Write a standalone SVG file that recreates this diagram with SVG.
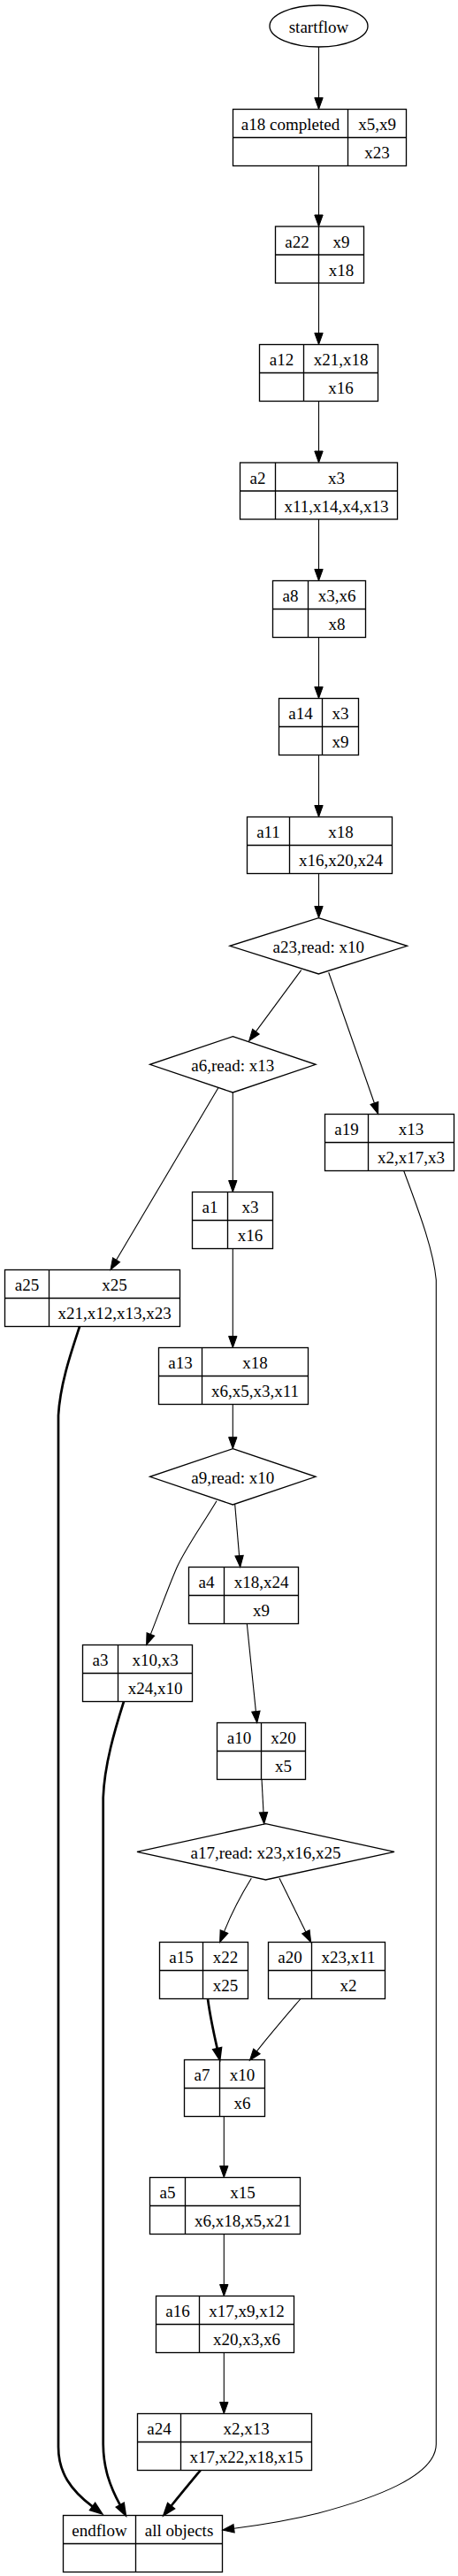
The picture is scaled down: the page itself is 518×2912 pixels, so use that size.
<svg xmlns="http://www.w3.org/2000/svg" width="518" height="2912" viewBox="0 0 518 2912">
<style>
.n{fill:none;stroke:#000;stroke-width:1.33}
.t{font-family:"Liberation Serif","Times New Roman",serif;font-size:19px;fill:#000;text-anchor:middle}
.e{fill:none;stroke:#000;stroke-width:1.1}
.e.thin{marker-end:url(#ah)}
.e.thick{stroke-width:2.7;marker-end:url(#ahk)}
</style>
<defs>
<marker id="ah" markerUnits="userSpaceOnUse" markerWidth="16" markerHeight="12" refX="0" refY="4.7" orient="auto" overflow="visible">
<path d="M0,0 L13,4.7 L0,9.4 z" fill="#000" stroke="#000" stroke-width="1"/>
</marker>
<marker id="ahk" markerUnits="userSpaceOnUse" markerWidth="16" markerHeight="12" refX="0" refY="4.7" orient="auto" overflow="visible">
<path d="M0,0 L13,4.7 L0,9.4 z" fill="#000" stroke="#000" stroke-width="2"/>
</marker>
</defs>
<rect width="518" height="2912" fill="#fff"/>
<g id="connectors">
<path class="e thin" d="M360.5,53 L360.5,110.5"/>
<path class="e thin" d="M360.5,187.5 L360.5,243"/>
<path class="e thin" d="M360.5,320 L360.5,376.5"/>
<path class="e thin" d="M360.5,453.5 L360.5,510"/>
<path class="e thin" d="M360.5,587 L360.5,643.5"/>
<path class="e thin" d="M360.5,720.5 L360.5,776.5"/>
<path class="e thin" d="M360.5,853.5 L360.5,910.5"/>
<path class="e thin" d="M360.5,987.5 L360.5,1024.5"/>
<path class="e thin" d="M340.7,1096.7 L289.4,1166.2"/>
<path class="e thin" d="M371.7,1099.3 L423.4,1247"/>
<path class="e thin" d="M263.3,1235 L263.3,1334.5"/>
<path class="e thin" d="M246.7,1230 L131.6,1424.3"/>
<path class="e thin" d="M263.3,1411 L263.3,1510.5"/>
<path class="e thin" d="M263.3,1587.5 L263.3,1624.7"/>
<path class="e thin" d="M265.7,1700.7 L270.6,1758.6"/>
<path class="e thin" d="M245,1696.7 C228,1725 210,1750 200,1772 C190,1795 182,1818 170.4,1847.4"/>
<path class="e thin" d="M279.3,1835.5 L289.4,1934.6"/>
<path class="e thin" d="M296,2011 L298,2048.7"/>
<path class="e thin" d="M284.3,2123.3 C274,2140 261,2165 253.5,2183.6"/>
<path class="e thin" d="M316,2123.3 L345.9,2183.9"/>
<path class="e thick" d="M235,2259.5 C237,2275 241,2295 245.7,2315.8"/>
<path class="e thin" d="M340,2259.5 C325,2277 305,2300 290.4,2318.9"/>
<path class="e thin" d="M253.3,2392.5 L253.3,2448.5"/>
<path class="e thin" d="M253.3,2525 L253.3,2582.5"/>
<path class="e thin" d="M253.3,2659.5 L253.3,2715.5"/>
<path class="e thick" d="M226.7,2792.5 C218,2803 208,2815 193.4,2833"/>
<path class="e thick" d="M90,1499.5 C80,1530 68,1565 66,1600 L66,2766 C66,2795 80,2815 104.8,2833.6"/>
<path class="e thick" d="M140,1923.5 C130,1955 118,1995 116.7,2032 L116.7,2763 C117,2790 124,2810 135.9,2831.9"/>
<path class="e thin" d="M456.7,1323.5 C470,1360 490,1410 493.3,1447 L493.3,2763 C493,2800 420,2825 360,2841 C320,2851 290,2855 264.6,2858.3"/>
</g>
<g id="startflow">
<ellipse class="n" cx="360.5" cy="29.5" rx="55.5" ry="23.5"/>
<text class="t" x="360.5" y="36.5">startflow</text>
</g>
<g id="a18">
<rect class="n" x="263.5" y="123.5" width="196" height="64"/>
<path class="n" d="M393.5,123.5 V187.5 M263.5,155.5 H459.5"/>
<text class="t" x="328.5" y="147">a18 completed</text>
<text class="t" x="426.5" y="147">x5,x9</text>
<text class="t" x="426.5" y="179">x23</text>
</g>
<g id="a22">
<rect class="n" x="311.5" y="256" width="100" height="64"/>
<path class="n" d="M360.5,256 V320 M311.5,288 H411.5"/>
<text class="t" x="336" y="279.5">a22</text>
<text class="t" x="386" y="279.5">x9</text>
<text class="t" x="386" y="311.5">x18</text>
</g>
<g id="a12">
<rect class="n" x="293.5" y="389.5" width="134" height="64"/>
<path class="n" d="M343.5,389.5 V453.5 M293.5,421.5 H427.5"/>
<text class="t" x="318.5" y="413">a12</text>
<text class="t" x="385.5" y="413">x21,x18</text>
<text class="t" x="385.5" y="445">x16</text>
</g>
<g id="a2">
<rect class="n" x="271.5" y="523" width="178" height="64"/>
<path class="n" d="M311.5,523 V587 M271.5,555 H449.5"/>
<text class="t" x="291.5" y="546.5">a2</text>
<text class="t" x="380.5" y="546.5">x3</text>
<text class="t" x="380.5" y="578.5">x11,x14,x4,x13</text>
</g>
<g id="a8">
<rect class="n" x="308.5" y="656.5" width="105" height="64"/>
<path class="n" d="M348.5,656.5 V720.5 M308.5,688.5 H413.5"/>
<text class="t" x="328.5" y="680">a8</text>
<text class="t" x="381" y="680">x3,x6</text>
<text class="t" x="381" y="712">x8</text>
</g>
<g id="a14">
<rect class="n" x="315.5" y="789.5" width="90" height="64"/>
<path class="n" d="M364.5,789.5 V853.5 M315.5,821.5 H405.5"/>
<text class="t" x="340" y="813">a14</text>
<text class="t" x="385" y="813">x3</text>
<text class="t" x="385" y="845">x9</text>
</g>
<g id="a11">
<rect class="n" x="279.5" y="923.5" width="164" height="64"/>
<path class="n" d="M327.5,923.5 V987.5 M279.5,955.5 H443.5"/>
<text class="t" x="303.5" y="947">a11</text>
<text class="t" x="385.5" y="947">x18</text>
<text class="t" x="385.5" y="979">x16,x20,x24</text>
</g>
<g id="a23">
<polygon class="n" points="360.3,1037.7 460.5,1069.3 360.3,1101 260,1069.3"/>
<text class="t" x="360.3" y="1076.8">a23,read: x10</text>
</g>
<g id="a6">
<polygon class="n" points="263.3,1171.7 357,1203.3 263.3,1235 169.6,1203.3"/>
<text class="t" x="263.3" y="1210.8">a6,read: x13</text>
</g>
<g id="a19">
<rect class="n" x="367.5" y="1259.5" width="146" height="64"/>
<path class="n" d="M416.5,1259.5 V1323.5 M367.5,1291.5 H513.5"/>
<text class="t" x="392" y="1283">a19</text>
<text class="t" x="465" y="1283">x13</text>
<text class="t" x="465" y="1315">x2,x17,x3</text>
</g>
<g id="a1">
<rect class="n" x="217.5" y="1347.5" width="91" height="64"/>
<path class="n" d="M257.5,1347.5 V1411.5 M217.5,1379.5 H308.5"/>
<text class="t" x="237.5" y="1371">a1</text>
<text class="t" x="283" y="1371">x3</text>
<text class="t" x="283" y="1403">x16</text>
</g>
<g id="a25">
<rect class="n" x="5.5" y="1435.5" width="198" height="64"/>
<path class="n" d="M55.5,1435.5 V1499.5 M5.5,1467.5 H203.5"/>
<text class="t" x="30.5" y="1459">a25</text>
<text class="t" x="129.5" y="1459">x25</text>
<text class="t" x="129.5" y="1491">x21,x12,x13,x23</text>
</g>
<g id="a13">
<rect class="n" x="179.5" y="1523.5" width="169" height="64"/>
<path class="n" d="M228.5,1523.5 V1587.5 M179.5,1555.5 H348.5"/>
<text class="t" x="204" y="1547">a13</text>
<text class="t" x="288.5" y="1547">x18</text>
<text class="t" x="288.5" y="1579">x6,x5,x3,x11</text>
</g>
<g id="a9">
<polygon class="n" points="263.3,1637.7 357,1669.3 263.3,1701 169.6,1669.3"/>
<text class="t" x="263.3" y="1676.8">a9,read: x10</text>
</g>
<g id="a4">
<rect class="n" x="213.5" y="1771.5" width="124" height="64"/>
<path class="n" d="M253.5,1771.5 V1835.5 M213.5,1803.5 H337.5"/>
<text class="t" x="233.5" y="1795">a4</text>
<text class="t" x="295.5" y="1795">x18,x24</text>
<text class="t" x="295.5" y="1827">x9</text>
</g>
<g id="a3">
<rect class="n" x="93.5" y="1859.5" width="124" height="64"/>
<path class="n" d="M133.5,1859.5 V1923.5 M93.5,1891.5 H217.5"/>
<text class="t" x="113.5" y="1883">a3</text>
<text class="t" x="175.5" y="1883">x10,x3</text>
<text class="t" x="175.5" y="1915">x24,x10</text>
</g>
<g id="a10">
<rect class="n" x="245.5" y="1947.5" width="100" height="64"/>
<path class="n" d="M295.5,1947.5 V2011.5 M245.5,1979.5 H345.5"/>
<text class="t" x="270.5" y="1971">a10</text>
<text class="t" x="320.5" y="1971">x20</text>
<text class="t" x="320.5" y="2003">x5</text>
</g>
<g id="a17">
<polygon class="n" points="300.5,2061.7 446,2093.3 300.5,2125 155,2093.3"/>
<text class="t" x="300.5" y="2100.8">a17,read: x23,x16,x25</text>
</g>
<g id="a15">
<rect class="n" x="180.5" y="2195.5" width="100" height="64"/>
<path class="n" d="M229.5,2195.5 V2259.5 M180.5,2227.5 H280.5"/>
<text class="t" x="205" y="2219">a15</text>
<text class="t" x="255" y="2219">x22</text>
<text class="t" x="255" y="2251">x25</text>
</g>
<g id="a20">
<rect class="n" x="303.5" y="2195.5" width="132" height="64"/>
<path class="n" d="M352.5,2195.5 V2259.5 M303.5,2227.5 H435.5"/>
<text class="t" x="328" y="2219">a20</text>
<text class="t" x="394" y="2219">x23,x11</text>
<text class="t" x="394" y="2251">x2</text>
</g>
<g id="a7">
<rect class="n" x="208.5" y="2328.5" width="91" height="64"/>
<path class="n" d="M248.5,2328.5 V2392.5 M208.5,2360.5 H299.5"/>
<text class="t" x="228.5" y="2352">a7</text>
<text class="t" x="274" y="2352">x10</text>
<text class="t" x="274" y="2384">x6</text>
</g>
<g id="a5">
<rect class="n" x="169.5" y="2461.5" width="170" height="64"/>
<path class="n" d="M209.5,2461.5 V2525.5 M169.5,2493.5 H339.5"/>
<text class="t" x="189.5" y="2485">a5</text>
<text class="t" x="274.5" y="2485">x15</text>
<text class="t" x="274.5" y="2517">x6,x18,x5,x21</text>
</g>
<g id="a16">
<rect class="n" x="176.5" y="2595.5" width="156" height="64"/>
<path class="n" d="M225.5,2595.5 V2659.5 M176.5,2627.5 H332.5"/>
<text class="t" x="201" y="2619">a16</text>
<text class="t" x="279" y="2619">x17,x9,x12</text>
<text class="t" x="279" y="2651">x20,x3,x6</text>
</g>
<g id="a24">
<rect class="n" x="155.5" y="2728.5" width="197" height="64"/>
<path class="n" d="M204.5,2728.5 V2792.5 M155.5,2760.5 H352.5"/>
<text class="t" x="180" y="2752">a24</text>
<text class="t" x="278.5" y="2752">x2,x13</text>
<text class="t" x="278.5" y="2784">x17,x22,x18,x15</text>
</g>
<g id="endflow">
<rect class="n" x="71.5" y="2843.5" width="180" height="64"/>
<path class="n" d="M153.5,2843.5 V2907.5 M71.5,2875.5 H251.5"/>
<text class="t" x="112.5" y="2867">endflow</text>
<text class="t" x="202.5" y="2867">all objects</text>
</g>
</svg>
